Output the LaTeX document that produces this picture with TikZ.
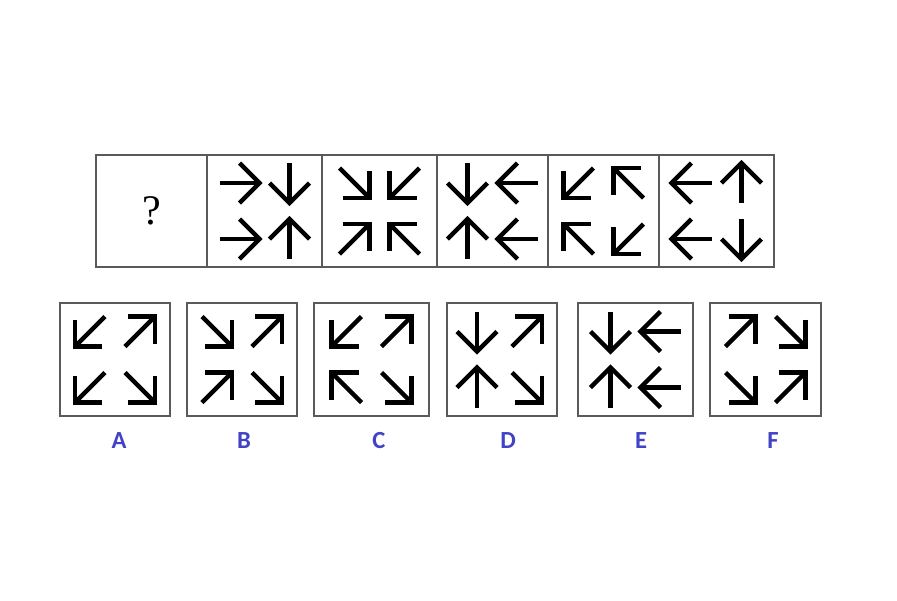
\documentclass[tikz,border=0pt]{standalone}
\usepackage{fontspec}
\newfontfamily\labelfont{Carlito}
\newfontfamily\markfont{Liberation Serif}
\usetikzlibrary{fit}
\definecolor{framegray}{RGB}{90,90,90}
\definecolor{labelblue}{RGB}{66,66,196}
\tikzset{
    cell/.style={draw=framegray, line width=0.8pt, inner sep=0pt},
    arw/.style={line width=2.6pt, line cap=butt, line join=miter},
    answer/.style={text=labelblue, font=\labelfont\bfseries\fontsize{14}{14}\selectfont},
    ortho/.pic={\draw[arw] (-20,0) -- (20,0); \draw[arw] (0,-20) -- (20,0) -- (0,20);},
    slant/.pic={\draw[arw] (-15,15) -- (15,-15); \draw[arw] (-12,-15) -- (15,-15) -- (15,12);},
    aE/.pic={\pic{ortho};},
    aN/.pic={\pic[rotate=90]{ortho};},
    aW/.pic={\pic[rotate=180]{ortho};},
    aS/.pic={\pic[rotate=270]{ortho};},
    aNE/.pic={\pic{slant};},
    aNW/.pic={\pic[rotate=90]{slant};},
    aSW/.pic={\pic[rotate=180]{slant};},
    aSE/.pic={\pic[rotate=270]{slant};},
}
% four arrows in a cell: top left, top right, bottom left, bottom right
\newcommand{\arrowquad}[5]{%
    \pic at ([shift={(-25,-28)}]#1.center) {a#2};
    \pic at ([shift={(25,-28)}]#1.center) {a#3};
    \pic at ([shift={(-25,28)}]#1.center) {a#4};
    \pic at ([shift={(25,28)}]#1.center) {a#5};
}
\begin{document}
\begin{tikzpicture}[x=0.02cm, y=-0.02cm]
    \useasboundingbox (0,0) rectangle (897,600);
    % sequence row
    \foreach \name/\xa/\xb in {q/96/207, s1/207/322, s2/322/437, s3/437/548, s4/548/659, s5/659/774}
        \node[cell, fit={(\xa,155) (\xb,267)}] (\name) {};
    \node[font=\markfont\fontsize{24}{24}\selectfont] (qmark) at (q.center) {?};
    \arrowquad{s1}{E}{S}{E}{N}
    \arrowquad{s2}{SE}{SW}{NE}{NW}
    \arrowquad{s3}{S}{W}{N}{W}
    \arrowquad{s4}{SW}{NW}{NW}{SW}
    \arrowquad{s5}{W}{N}{W}{S}
    % answer row
    \foreach \name/\xa/\xb/\lx/\txt in {a/60/170/119/A, b/187/297/244/B, c/314/429/379/C,
                                        d/447/557/508/D, e/578/693/641/E, f/710/821/773/F} {
        \node[cell, fit={(\xa,303) (\xb,416)}] (\name) {};
        \node[answer] (lbl\name) at (\lx,441) {\txt};
    }
    \arrowquad{a}{SW}{NE}{SW}{SE}
    \arrowquad{b}{SE}{NE}{NE}{SE}
    \arrowquad{c}{SW}{NE}{NW}{SE}
    \arrowquad{d}{S}{NE}{N}{SE}
    \arrowquad{e}{S}{W}{N}{W}
    \arrowquad{f}{NE}{SE}{SE}{NE}
\end{tikzpicture}
\end{document}
